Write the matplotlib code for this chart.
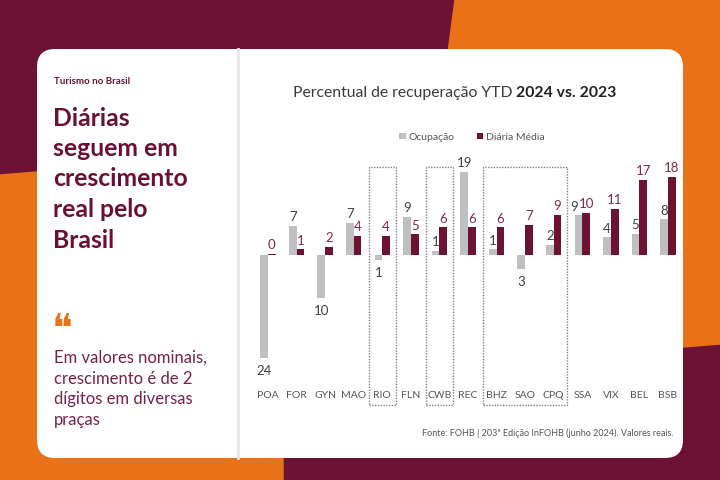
import matplotlib.pyplot as plt
import numpy as np
from matplotlib.colors import LinearSegmentedColormap
from matplotlib.patches import FancyBboxPatch, Polygon, Rectangle

plt.rcParams['font.family'] = ['Lato', 'DejaVu Sans']

# Data (percent change YTD 2024 vs 2023)
cities = ['POA', 'FOR', 'GYN', 'MAO', 'RIO', 'FLN', 'CWB', 'REC',
          'BHZ', 'SAO', 'CPQ', 'SSA', 'VIX', 'BEL', 'BSB']
ocupacao = [-24, 6.8, -10, 7.4, -1.2, 8.8, 0.9, 19.3,
            1.3, -3.3, 2.4, 9.2, 4.1, 5.0, 8.3]
diaria = [0.3, 1.3, 1.9, 4.4, 4.4, 4.8, 6.4, 6.4,
          6.4, 7.0, 9.4, 9.8, 10.8, 17.4, 18.2]
# groups highlighted with dotted boxes (first, last city)
highlight = [('RIO', 'RIO'), ('CWB', 'CWB'), ('BHZ', 'CPQ')]

headline = ['Diárias', 'seguem em', 'crescimento', 'real pelo', 'Brasil']
quote = ['Em valores nominais,', 'crescimento é de 2', 'dígitos em diversas', 'praças']

MAROON = '#6e1235'
ORANGE = '#e97117'
GRAY = '#bfbfbf'
TXT = '#6b1032'

fig = plt.figure(figsize=(7.2, 4.8), dpi=100)

# --- background in pixel coordinates ---
bg = fig.add_axes([0, 0, 1, 1])
bg.add_patch(Rectangle((0, 0), 720, 480, color=MAROON))
bg.add_patch(Polygon([(455, 0), (720, 0), (720, 344), (683, 347),
                      (440, 360), (447, 60)], color=ORANGE))
bg.add_patch(Polygon([(0, 175), (37, 172), (250, 160), (283, 300),
                      (283, 480), (0, 480)], color=ORANGE))
bg.add_patch(FancyBboxPatch((37, 49), 646, 409,
                            boxstyle='round,pad=0,rounding_size=18',
                            fc='white', ec='none'))
bg.plot([238, 238], [49, 458], color='#e6e6e6', lw=2)

# --- left text panel ---
bg.text(54, 81, 'Turismo no Brasil', color=TXT, fontsize=7, fontweight='bold',
        va='center')
for k, line in enumerate(headline):
    bg.text(53, 118 + 30.5 * k, line, color=TXT, fontsize=17.8,
            fontweight='bold', va='center')
grad = LinearSegmentedColormap.from_list('g', ['#f4f4f4', ORANGE])
bg.imshow(np.linspace(0, 1, 100).reshape(1, -1), cmap=grad, aspect='auto',
          extent=[53, 92, 290.5, 287.5])
bg.text(52, 330, '\u275d', color=ORANGE, fontsize=28, family='DejaVu Sans',
        va='center')
for k, line in enumerate(quote):
    bg.text(54, 358 + 20.5 * k, line, color='#7a2048', fontsize=12, va='center')
bg.set_xlim(0, 720)
bg.set_ylim(480, 0)
bg.axis('off')

# --- chart ---
step = 28.57                      # pixels per category
x0, base, scale = 268, 255, 4.3   # first category px, zero line px, px per unit
ax_top, ax_bot = 150, 387
xmin, xmax = -0.6, 14.6
ax = fig.add_axes([(x0 + xmin * step) / 720, 1 - ax_bot / 480,
                   (xmax - xmin) * step / 720, (ax_bot - ax_top) / 480])
ax.set_xlim(xmin, xmax)
ax.set_ylim(-(ax_bot - base) / scale, (base - ax_top) / scale)
ax.axis('off')

x = np.arange(len(cities))
w = 0.27
b1 = ax.bar(x - w / 2, ocupacao, w, color=GRAY, label='Ocupação')
b2 = ax.bar(x + w / 2, diaria, w, color=MAROON, label='Diária Média')

for i, (o, d) in enumerate(zip(ocupacao, diaria)):
    dx = -3 if (o > 0 and abs(o - d) < 1.5) else 0
    for v, xi, col, shift in [(o, i - w / 2, '#404040', dx), (d, i + w / 2, '#822650', 0)]:
        ax.annotate(f'{abs(v):.0f}', (xi, v), xytext=(shift, 2 if v >= 0 else -5),
                    textcoords='offset points', ha='center',
                    va='bottom' if v >= 0 else 'top', fontsize=9.5, color=col)

for i, c in enumerate(cities):
    ax.text(i, -(396 - base) / scale, c, ha='center', va='center',
            fontsize=7.5, color='#555555')

box_top, box_bot = (base - 167) / scale, -(405 - base) / scale
for a, b in highlight:
    i0, i1 = cities.index(a) - 0.46, cities.index(b) + 0.47
    ax.add_patch(Rectangle((i0, box_bot), i1 - i0, box_top - box_bot, fill=False,
                           ec='#808080', lw=1, ls=(0, (1, 1)), clip_on=False))

fig.legend(handles=[b1, b2], loc='center', bbox_to_anchor=(472 / 720, 1 - 137 / 480),
           ncol=2, frameon=False, fontsize=7.5, handlelength=0.6, handleheight=0.6,
           handletextpad=0.25, columnspacing=2.2, labelcolor='#555555')

t1 = bg.text(293, 93, 'Percentual de recuperação YTD ', fontsize=11.3,
             color='#3a3a3a', va='center')
bg.annotate('2024 vs. 2023', xy=(1, 0), xycoords=t1, va='bottom', fontsize=11.3,
            fontweight='bold', color='#222222')

bg.text(673, 433, 'Fonte: FOHB | 203ª Edição InFOHB (junho 2024). Valores reais.',
        ha='right', va='center', fontsize=6.5, color='#555555')

fig.savefig('out.png', dpi=100)
